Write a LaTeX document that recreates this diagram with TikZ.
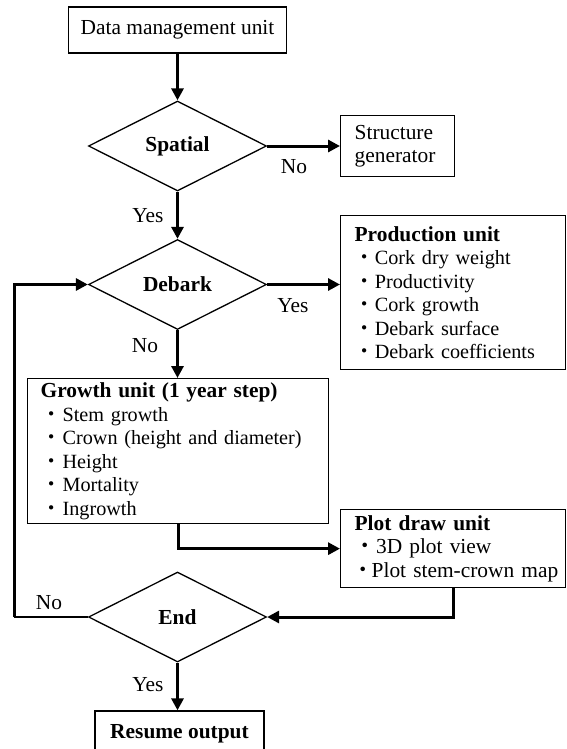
\documentclass[tikz,border=0pt]{standalone}
\usepackage{fontspec}
\setmainfont{Liberation Serif}
\newfontfamily\cjkfont{Noto Sans CJK JP}
\usetikzlibrary{shapes.geometric,arrows.meta}
\newcommand{\bul}[1][1em]{\makebox[#1][c]{\cjkfont ・}}
\newcommand{\ttl}[1]{{\fontsize{21.4}{23.5}\selectfont\bfseries #1}}
\begin{document}
\begin{tikzpicture}[x=1pt,y=-1pt,
  every node/.style={font=\fontsize{21.4}{23.5}\selectfont},
  box/.style={draw, line width=1.3pt, inner sep=0pt},
  listbox/.style={draw, line width=1.3pt, anchor=north west, align=left, inner xsep=14pt, inner ysep=0pt},
  itemfont/.style={font=\fontsize{20.2}{23.5}\selectfont},
  dec/.style={draw, shape=diamond, line width=1.3pt, minimum width=178pt, minimum height=90pt, inner sep=0pt, font=\fontsize{21.4}{23.5}\selectfont\bfseries},
  flow/.style={line width=3pt, -{Triangle[length=12pt,width=12pt]}},
  thinline/.style={line width=1.3pt},
  lbl/.style={anchor=base, inner sep=0pt}
]
\path[use as bounding box] (0,0) rectangle (566,749);
\clip (0,0) rectangle (566,749);

\node[box, minimum width=218pt, minimum height=46pt] (dm) at (177.5,30) {Data management unit};
\node[dec] (sp) at (177.5,146) {Spatial};
\node[listbox, text width=86pt, minimum height=61pt] (sg) at (340,115) {Structure\\generator};
\node[dec] (db) at (177.5,284.5) {Debark};
\node[listbox, itemfont, text width=197pt, minimum height=154pt] (pr) at (340,215)
  {\ttl{Production unit}\\\bul Cork dry weight\\\bul Productivity\\\bul Cork growth\\\bul Debark surface\\\bul Debark coefficients};
\node[listbox, itemfont, inner xsep=13pt, text width=275pt, minimum height=145pt] (gr) at (27,378)
  {\ttl{Growth unit (1 year step)}\\\bul[22pt]Stem growth\\\bul[22pt]Crown (height and diameter)\\\bul[22pt]Height\\\bul[22pt]Mortality\\\bul[22pt]Ingrowth};
\node[listbox, inner xsep=14pt, text width=197pt, minimum height=78pt] (pl) at (340,509)
  {\ttl{Plot draw unit}\\\bul 3D plot view\\\rlap{\bul[17pt]Plot stem-crown map}};
\node[dec] (en) at (177.5,617) {End};
\node[box, minimum width=169pt, minimum height=46pt, font=\fontsize{21.4}{23.5}\selectfont\bfseries] (res) at (179.5,734) {Resume output};

\draw[flow] (dm.south) -- (sp.north);
\draw[flow] (sp.east) -- (sp.east -| sg.west);
\draw[flow] (sp.south) -- (db.north);
\draw[flow] (db.east) -- (db.east -| pr.west);
\draw[flow] (db.south) -- (db.south |- gr.north);
\draw[flow] (gr.south) |- (pl.west);
\draw[flow] (pl.south) |- (en.east);
\coordinate (lp) at (14,617);
\draw[thinline] (en.west) -- (lp);
\draw[flow] (lp) |- (db.west);
\draw[flow] (en.south) -- (en.south |- res.north);

\node[lbl] (n1) at (294,173) {No};
\node[lbl] (y1) at (148,222) {Yes};
\node[lbl] (y2) at (293,312) {Yes};
\node[lbl] (n2) at (145,352) {No};
\node[lbl] (n3) at (49,609) {No};
\node[lbl] (y3) at (148,691) {Yes};
\end{tikzpicture}
\end{document}
